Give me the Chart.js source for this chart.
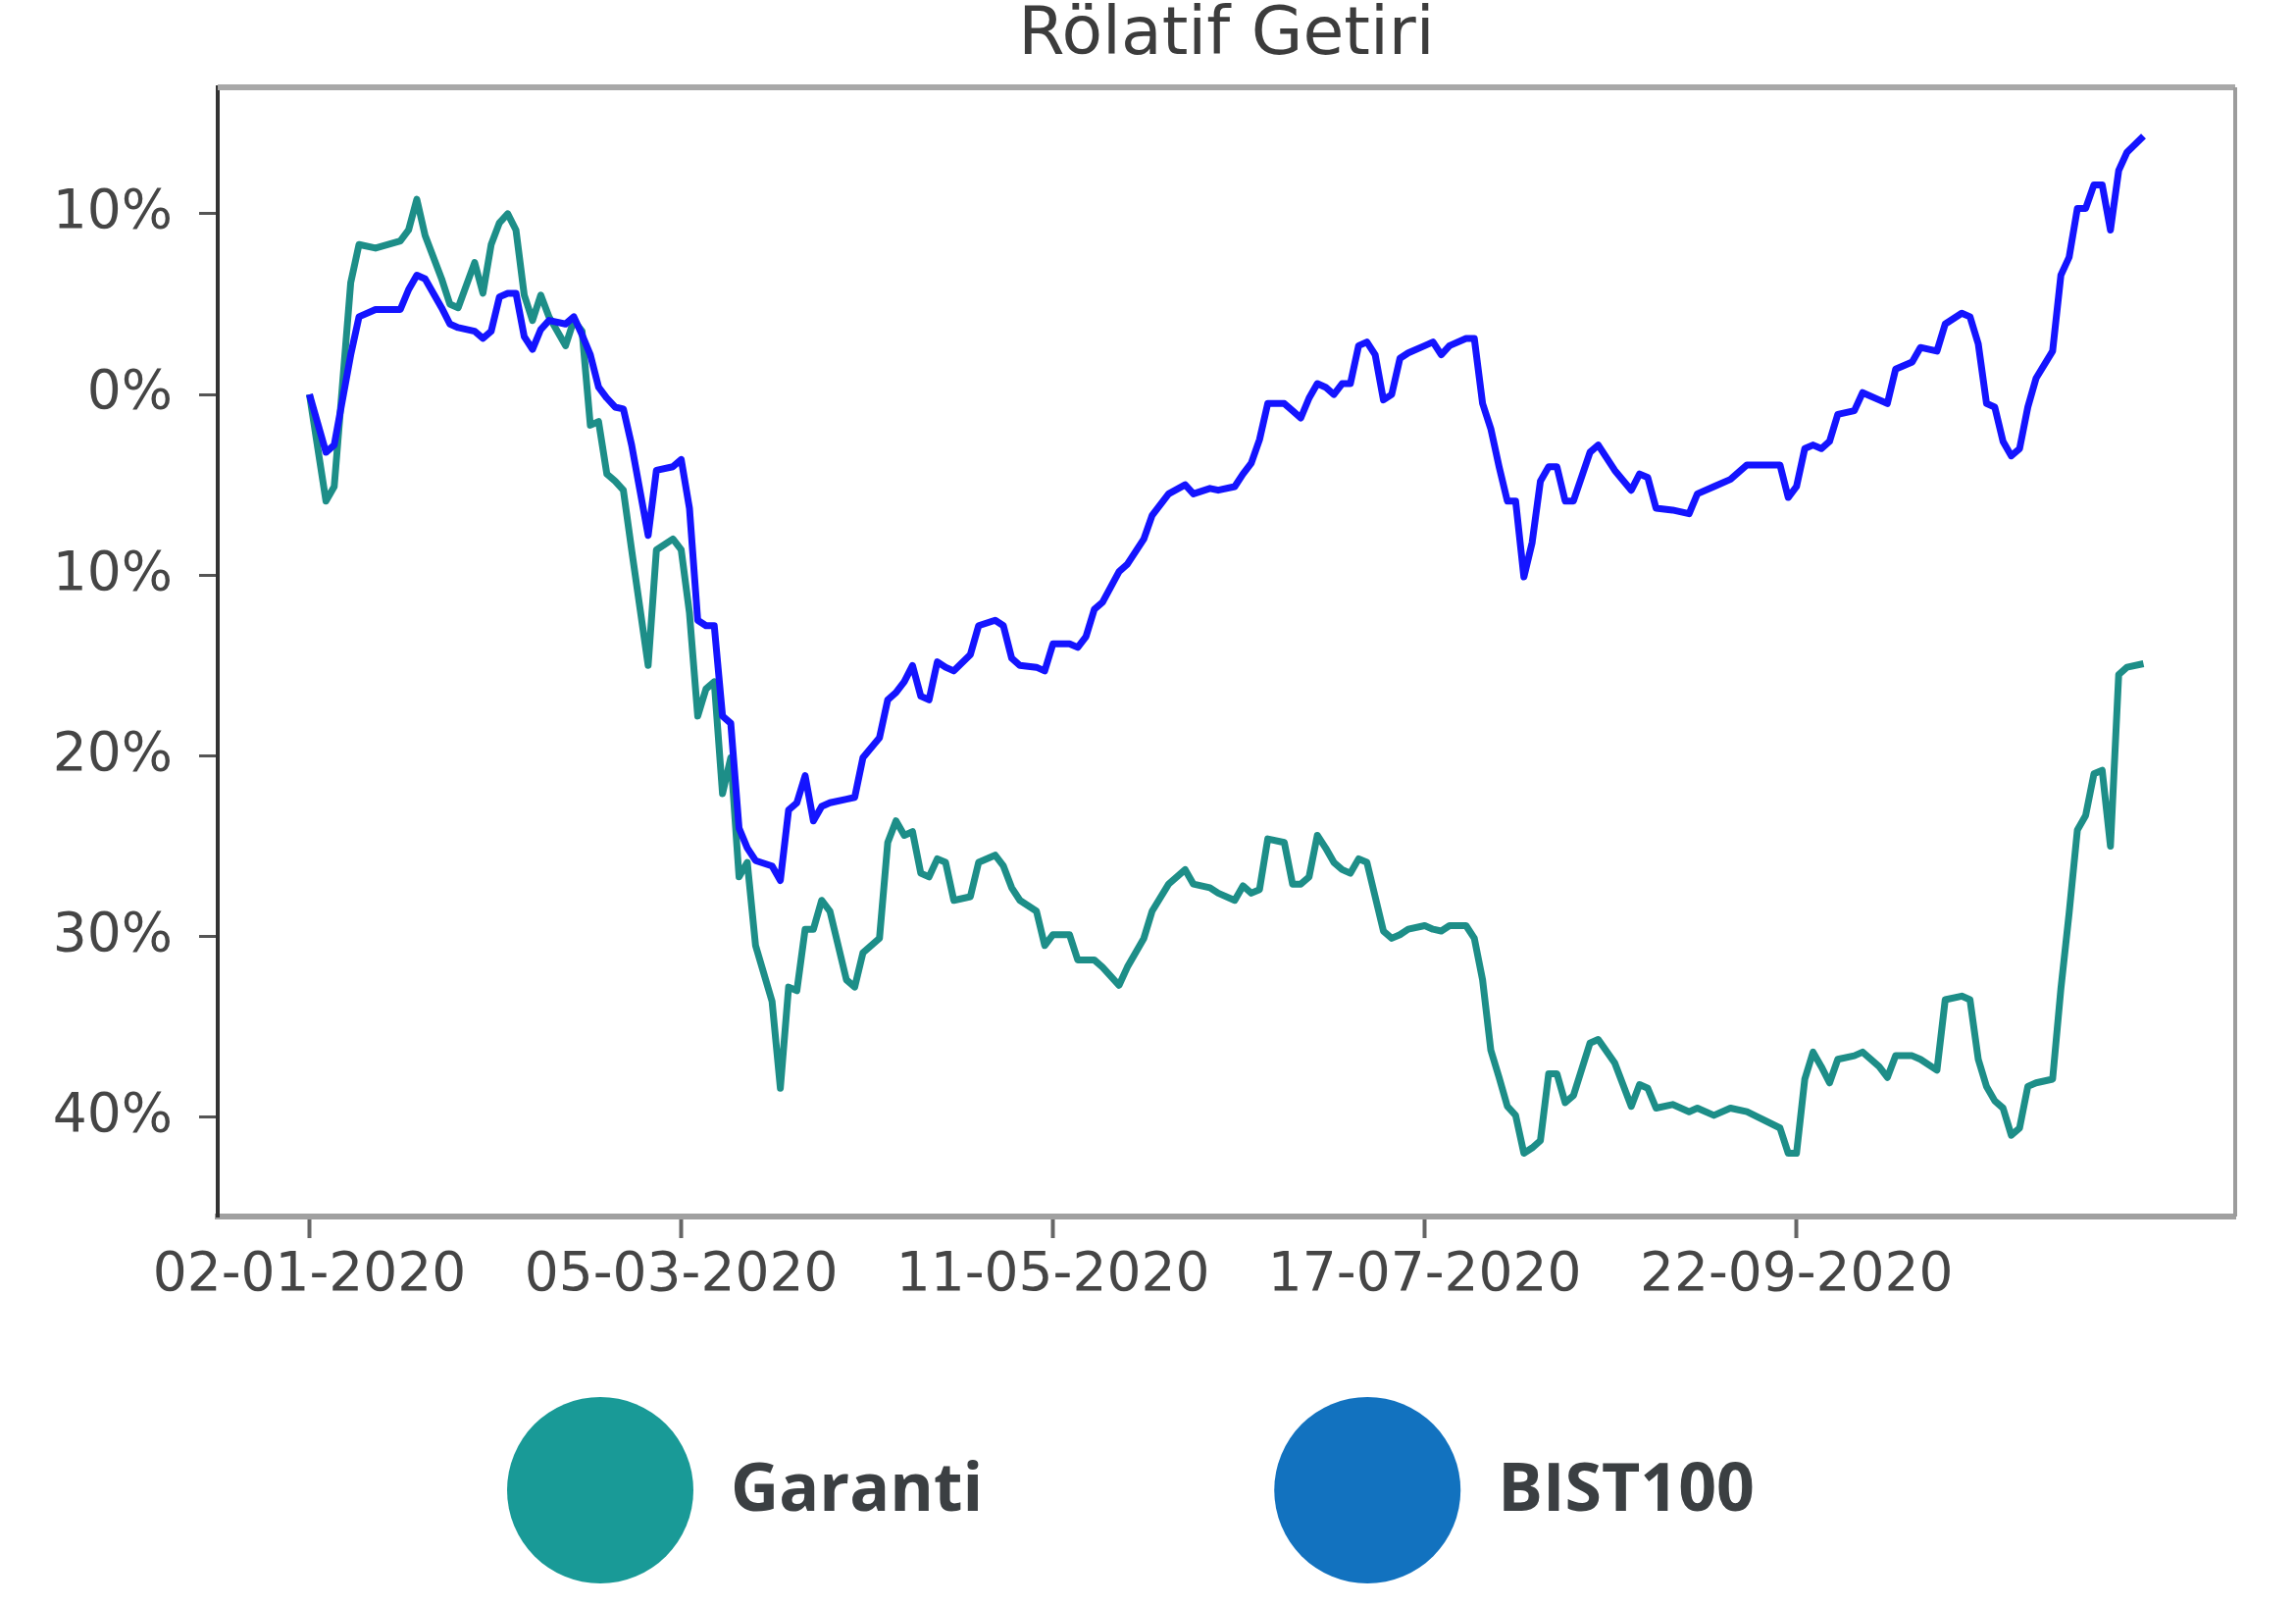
<!DOCTYPE html>
<html>
<head>
<meta charset="utf-8">
<script src="https://cdn.jsdelivr.net/npm/chart.js@4.4.1/dist/chart.umd.min.js"></script>
<style>
  html, body { margin: 0; padding: 0; background: #fff; }
  #wrap { width: 2341px; height: 1637px; }
</style>
</head>
<body>
<div id="wrap"><canvas id="relChart" width="2341" height="1637"></canvas></div>
<script>
// trading-day index (0 = 02-01-2020) and relative return in %
const dayIdx = [0, 2, 3, 5, 6, 8, 11, 12, 13, 14, 16, 17, 18, 20, 21, 22, 23, 24, 25, 26,
    27, 28, 29, 31, 32, 33, 34, 35, 36, 37, 38, 39, 41, 42, 44, 45, 46, 47, 48, 49,
    50, 51, 52, 53, 54, 56, 57, 58, 59, 60, 61, 62, 63, 65, 66, 67, 69, 70, 71, 72,
    73, 74, 75, 76, 77, 78, 80, 81, 83, 84, 85, 86, 88, 89, 90, 92, 93, 94, 95, 96,
    98, 99, 101, 102, 104, 106, 107, 109, 110, 112, 113, 114, 115, 116, 118, 119, 120, 121, 122, 123,
    124, 125, 126, 127, 128, 129, 130, 131, 132, 133, 135, 136, 137, 138, 140, 141, 142, 143, 144, 145,
    146, 147, 148, 149, 150, 151, 152, 153, 155, 156, 158, 160, 161, 162, 163, 165, 167, 168, 170, 172,
    174, 178, 179, 180, 181, 182, 183, 184, 185, 187, 188, 190, 191, 192, 194, 195, 197, 198, 200, 201,
    202, 203, 204, 205, 206, 207, 208, 209, 211, 212, 213, 214, 215, 216, 217, 218, 219, 220, 222];

const garanti = [0, -5.9, -5.1, 6.2, 8.3, 8.1, 8.5, 9.1, 10.8, 8.8, 6.4, 5.0, 4.8, 7.3, 5.6, 8.3, 9.5, 10.0, 9.1, 5.5,
    4.1, 5.5, 4.3, 2.7, 4.1, 3.5, -1.7, -1.5, -4.4, -4.8, -5.3, -8.6, -15.0, -8.6, -8.0, -8.6, -12.1, -17.8, -16.3, -15.9,
    -22.1, -20.1, -26.7, -25.9, -30.5, -33.6, -38.4, -32.8, -33.0, -29.6, -29.6, -28.0, -28.6, -32.4, -32.8, -30.9, -30.1, -24.8, -23.6, -24.4,
    -24.2, -26.5, -26.7, -25.7, -25.9, -28.0, -27.8, -25.9, -25.5, -26.1, -27.3, -28.0, -28.6, -30.5, -29.9, -29.9, -31.3, -31.3, -31.3, -31.7,
    -32.7, -31.7, -30.1, -28.6, -27.1, -26.3, -27.1, -27.3, -27.6, -28.0, -27.2, -27.6, -27.4, -24.6, -24.8, -27.1, -27.1, -26.7, -24.4, -25.1,
    -25.9, -26.3, -26.5, -25.7, -25.9, -27.8, -29.7, -30.1, -29.9, -29.6, -29.4, -29.6, -29.7, -29.4, -29.4, -30.1, -32.4, -36.3, -37.8, -39.4,
    -39.9, -42.0, -41.7, -41.3, -37.6, -37.6, -39.2, -38.8, -35.9, -35.7, -37.0, -39.4, -38.2, -38.4, -39.5, -39.3, -39.7, -39.5, -39.9, -39.5,
    -39.7, -40.6, -42.0, -42.0, -37.9, -36.4, -37.2, -38.1, -36.8, -36.6, -36.4, -37.2, -37.8, -36.6, -36.6, -36.8, -37.4, -33.5, -33.3, -33.5,
    -36.8, -38.3, -39.1, -39.5, -41.0, -40.6, -38.3, -38.1, -37.9, -32.9, -28.7, -24.1, -23.3, -21.0, -20.8, -25.0, -15.5, -15.1, -14.9];

const bist100 = [0, -3.2, -2.8, 2.2, 4.3, 4.7, 4.7, 5.8, 6.6, 6.4, 4.8, 3.9, 3.7, 3.5, 3.1, 3.5, 5.4, 5.6, 5.6, 3.2,
    2.5, 3.6, 4.1, 3.9, 4.3, 3.3, 2.2, 0.4, -0.2, -0.7, -0.8, -2.8, -7.8, -4.2, -4.0, -3.6, -6.3, -12.5, -12.8, -12.8,
    -17.8, -18.2, -24.0, -25.1, -25.8, -26.1, -26.9, -23.0, -22.6, -21.1, -23.6, -22.8, -22.6, -22.4, -22.3, -20.1, -19.0, -16.9, -16.5, -15.9,
    -15.0, -16.7, -16.9, -14.8, -15.1, -15.3, -14.4, -12.8, -12.5, -12.8, -14.6, -15.0, -15.1, -15.3, -13.8, -13.8, -14.0, -13.4, -11.9, -11.5,
    -9.8, -9.4, -8.0, -6.7, -5.5, -5.0, -5.5, -5.2, -5.3, -5.1, -4.4, -3.8, -2.5, -0.5, -0.5, -0.9, -1.3, -0.2, 0.6, 0.4,
    0.0, 0.6, 0.6, 2.7, 2.9, 2.2, -0.3, 0.0, 2.0, 2.3, 2.7, 2.9, 2.2, 2.7, 3.1, 3.1, -0.5, -1.9, -4.0, -5.9,
    -5.9, -10.1, -8.2, -4.8, -4.0, -4.0, -5.9, -5.9, -3.2, -2.8, -4.2, -5.3, -4.4, -4.6, -6.3, -6.4, -6.6, -5.5, -5.1, -4.7,
    -3.9, -3.9, -5.7, -5.1, -3.0, -2.8, -3.0, -2.6, -1.1, -0.9, 0.1, -0.3, -0.5, 1.4, 1.8, 2.6, 2.4, 3.9, 4.5, 4.3,
    2.8, -0.5, -0.7, -2.6, -3.4, -3.0, -0.7, 0.9, 2.4, 6.6, 7.6, 10.3, 10.3, 11.6, 11.6, 9.1, 12.4, 13.4, 14.3];

const seriesNames = ['Garanti', 'BIST100'];
const xTickIdx = [0, 45, 90, 135, 180];
const xTickLabels = ['02-01-2020', '05-03-2020', '11-05-2020', '17-07-2020', '22-09-2020'];
const yTicks = [10, 0, -10, -20, -30, -40];

const toPoints = vals => dayIdx.map((d, i) => ({ x: d, y: vals[i] }));

// centre the title over the plot area instead of the whole canvas
const titleOverPlot = {
    id: 'titleOverPlot',
    afterLayout(chart) {
        const t = chart.titleBlock;
        if (!t) return;
        t.left = chart.chartArea.left;
        t.right = chart.chartArea.right;
        t.width = t.right - t.left;
    }
};

// big round legend under the plot
const bubbleLegend = {
    id: 'bubbleLegend',
    afterDraw(chart) {
        const ctx = chart.ctx;
        const colors = ['#199a97', '#1272bf'];
        const r = 95;
        const cy = 1519;
        let x = 517;
        ctx.save();
        ctx.font = 'bold 68px "Open Sans"';
        ctx.textBaseline = 'alphabetic';
        ctx.textAlign = 'left';
        chart.data.datasets.forEach((ds, i) => {
            ctx.fillStyle = colors[i];
            ctx.beginPath();
            ctx.arc(x + r, cy, r, 0, Math.PI * 2);
            ctx.fill();
            ctx.fillStyle = '#3b3f42';
            ctx.fillText(ds.label, x + 2 * r + 38, cy + 21);
            x += 2 * r + 38 + ctx.measureText(ds.label).width + 297;
        });
        ctx.restore();
    }
};

// top and right spines
const frame = {
    id: 'frame',
    afterDraw(chart) {
        const { left, right, top, bottom } = chart.chartArea;
        const ctx = chart.ctx;
        ctx.save();
        ctx.strokeStyle = '#a8a8a8';
        ctx.lineWidth = 6;
        ctx.beginPath();
        ctx.moveTo(left, top);
        ctx.lineTo(right, top);
        ctx.stroke();
        ctx.strokeStyle = '#9c9c9c';
        ctx.lineWidth = 4;
        ctx.beginPath();
        ctx.moveTo(right, top);
        ctx.lineTo(right, bottom);
        ctx.stroke();
        ctx.restore();
    }
};

const ctx = document.getElementById('relChart').getContext('2d');
const relChart = new Chart(ctx, {
    type: 'line',
    data: {
        datasets: [{
            label: seriesNames[0],
            data: toPoints(garanti),
            borderColor: '#1d8e88',
            borderWidth: 7,
            borderJoinStyle: 'round',
            order: 1
        }, {
            label: seriesNames[1],
            data: toPoints(bist100),
            borderColor: '#1414ff',
            borderWidth: 7,
            borderJoinStyle: 'round',
            order: 0
        }]
    },
    options: {
        responsive: false,
        animation: false,
        devicePixelRatio: 1,
        layout: { padding: { left: 0, right: 62, top: 0, bottom: 0 } },
        elements: { point: { radius: 0 }, line: { tension: 0 } },
        plugins: {
            legend: { display: false },
            tooltip: { enabled: false },
            title: {
                display: true,
                text: 'Rölatif Getiri',
                color: '#3c3c3c',
                font: { family: 'DejaVu Sans', size: 68, weight: 'normal', lineHeight: 1 },
                padding: { top: 3, bottom: 18 }
            }
        },
        scales: {
            x: {
                type: 'linear',
                min: -11.1,
                max: 233.1,
                afterBuildTicks: s => { s.ticks = xTickIdx.map(v => ({ value: v })); },
                afterFit: s => { s.height = 397; },
                grid: { drawOnChartArea: false, tickLength: 22, tickWidth: 4, tickColor: '#666' },
                border: { display: true, color: '#a0a0a0', width: 6 },
                ticks: {
                    maxRotation: 0,
                    padding: 6,
                    color: '#454545',
                    font: { family: 'DejaVu Sans', size: 55 },
                    callback: v => xTickLabels[xTickIdx.indexOf(v)]
                }
            },
            y: {
                min: -45.5,
                max: 17.0,
                afterBuildTicks: s => { s.ticks = yTicks.map(v => ({ value: v })); },
                afterFit: s => { s.width = 222; },
                grid: { drawOnChartArea: false, tickLength: 19, tickWidth: 3, tickColor: '#555' },
                border: { display: true, color: '#333', width: 4 },
                ticks: {
                    padding: 27,
                    color: '#454545',
                    font: { family: 'DejaVu Sans', size: 55 },
                    callback: v => Math.abs(v) + '%'
                }
            }
        }
    },
    plugins: [titleOverPlot, frame, bubbleLegend]
});
</script>
</body>
</html>
